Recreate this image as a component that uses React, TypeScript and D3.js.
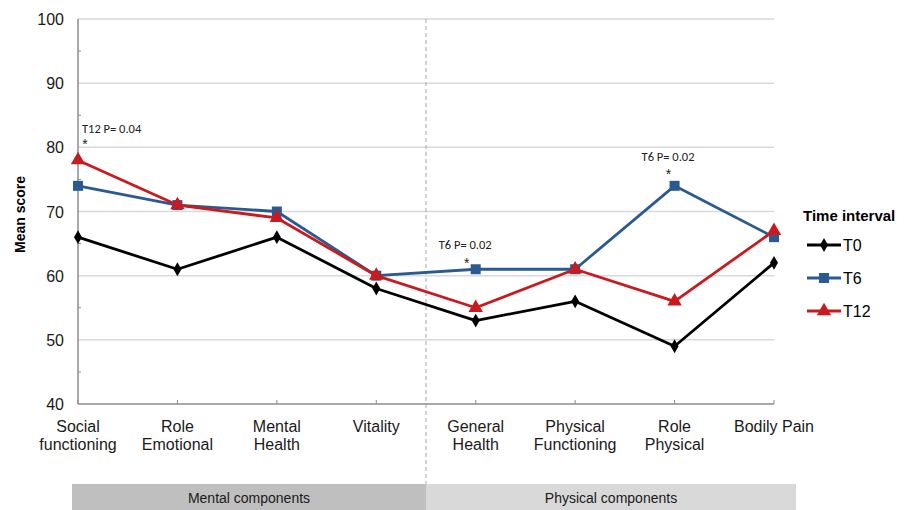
import React from "react";
import * as d3 from "d3";

const categories: string[][] = [
  ["Social", "functioning"],
  ["Role", "Emotional"],
  ["Mental", "Health"],
  ["Vitality"],
  ["General", "Health"],
  ["Physical", "Functioning"],
  ["Role", "Physical"],
  ["Bodily Pain"],
];
const t0 = [66, 61, 66, 58, 53, 56, 49, 62];
const t6 = [74, 71, 70, 60, 61, 61, 74, 66];
const t12 = [78, 71, 69, 60, 55, 61, 56, 67];
const yTicks = [40, 50, 60, 70, 80, 90, 100];
const annotations = [
  { cat: 0, value: 78, text: "T12 P= 0.04" },
  { cat: 4, value: 61, text: "T6 P= 0.02" },
  { cat: 6, value: 74, text: "T6 P= 0.02" },
];
const groups = [
  { label: "Mental components", from: 0, to: 3.5 },
  { label: "Physical components", from: 3.5, to: 7 },
];

const W = 914;
const H = 510;
const FONT = "'Liberation Sans', Arial, sans-serif";
const ANN_FONT = "Carlito, 'Open Sans', 'Liberation Sans', sans-serif";

// layout offsets for annotation text / star relative to the point
const annStyle = [
  { tx: 4, ty: -27, sx: 7, sy: -11 },
  { tx: -37, ty: -20, sx: -9, sy: -1 },
  { tx: -33, ty: -25, sx: -6, sy: -6.5 },
];

export default function App() {
  const x = d3.scalePoint<number>().domain(d3.range(categories.length)).range([78, 774]);
  const y = d3.scaleLinear().domain([40, 100]).range([404, 19]);
  const step = x.step();
  const xc = (v: number) => x(0)! + v * step;

  const series = [
    { name: "T0", data: t0, color: "#000000", marker: "diamond" },
    { name: "T6", data: t6, color: "#2b5a91", marker: "square" },
    { name: "T12", data: t12, color: "#c81a1f", marker: "triangle" },
  ];

  const line = d3
    .line<number>()
    .x((_, i) => x(i)!)
    .y((d) => y(d));

  const markerPath = (type: string) => {
    if (type === "diamond") return d3.symbol(d3.symbolDiamond, 55)()!;
    if (type === "square") return d3.symbol(d3.symbolSquare, 100)()!;
    return d3.symbol(d3.symbolTriangle, 90)()!;
  };

  const minor = d3.range(45, 100, 10);

  return (
    <svg width={W} height={H} style={{ position: "absolute", left: 0, top: 0, background: "#fff" }}>
      <rect x={0} y={0} width={W} height={H} fill="#fff" />
      {/* gridlines */}
      {yTicks.slice(1).map((t) => (
        <line key={t} x1={x(0)} x2={x(7)} y1={y(t)} y2={y(t)} stroke="#d9d9d9" strokeWidth={1.5} />
      ))}
      {/* y axis */}
      <line x1={x(0)} x2={x(0)} y1={y(100)} y2={y(40)} stroke="#8c8c8c" strokeWidth={1.5} />
      {minor.map((t) => (
        <line key={t} x1={x(0)} x2={x(0)! + 3} y1={y(t)} y2={y(t)} stroke="#8c8c8c" strokeWidth={1} />
      ))}
      {yTicks.map((t) => (
        <text key={t} x={64} y={y(t) + 6} textAnchor="end" fontSize={16} fontFamily={FONT} fill="#1a1a1a">
          {t}
        </text>
      ))}
      <text
        transform={`translate(25, ${y(70) + 3}) rotate(-90)`}
        textAnchor="middle"
        fontSize={14}
        fontWeight="bold"
        fontFamily={FONT}
        fill="#000"
      >
        Mean score
      </text>
      {/* x axis */}
      <line x1={x(0)} x2={x(7)} y1={y(40)} y2={y(40)} stroke="#8c8c8c" strokeWidth={1.5} />
      {categories.map((_, i) => (
        <line key={i} x1={x(i)} x2={x(i)} y1={y(40)} y2={y(40) - 4} stroke="#8c8c8c" strokeWidth={1} />
      ))}
      {categories.map((lines, i) => (
        <text key={i} textAnchor="middle" fontSize={16} fontFamily={FONT} fill="#1a1a1a">
          {lines.map((l, j) => (
            <tspan key={j} x={x(i)} y={432 + j * 18}>
              {l}
            </tspan>
          ))}
        </text>
      ))}
      {/* divider */}
      <line x1={xc(3.5)} x2={xc(3.5)} y1={y(100)} y2={484} stroke="#a6a6a6" strokeWidth={1} strokeDasharray="4,3" />
      {/* group bands */}
      {groups.map((g, i) => {
        const x0 = i === 0 ? xc(g.from) - 6 : xc(g.from);
        const x1 = i === 0 ? xc(g.to) : xc(g.to) + 22;
        return (
          <g key={g.label}>
            <rect x={x0} y={484} width={x1 - x0} height={26} fill={i === 0 ? "#bfbfbf" : "#d9d9d9"} />
            <text x={(x0 + x1) / 2} y={503} textAnchor="middle" fontSize={14} fontFamily={FONT} fill="#1a1a1a">
              {g.label}
            </text>
          </g>
        );
      })}
      {/* series */}
      {series.map((s) => (
        <g key={s.name}>
          <path d={line(s.data)!} fill="none" stroke={s.color} strokeWidth={2.8} strokeLinejoin="round" />
          {s.data.map((v, i) => (
            <path key={i} d={markerPath(s.marker)} transform={`translate(${x(i)},${y(v)})`} fill={s.color} />
          ))}
        </g>
      ))}
      {/* annotations */}
      {annotations.map((a, i) => {
        const st = annStyle[i];
        return (
          <g key={i}>
            <text x={x(a.cat)! + st.tx} y={y(a.value) + st.ty} fontSize={12.5} fontFamily={ANN_FONT} fill="#222">
              {a.text}
            </text>
            <text x={x(a.cat)! + st.sx} y={y(a.value) + st.sy} fontSize={14} fontFamily={FONT} fill="#222" textAnchor="middle">
              *
            </text>
          </g>
        );
      })}
      {/* legend */}
      <text x={803} y={221} fontSize={15} fontWeight="bold" fontFamily={FONT} fill="#000">
        Time interval
      </text>
      {series.map((s, i) => {
        const ly = 245 + i * 33;
        return (
          <g key={s.name}>
            <line x1={807} x2={841} y1={ly} y2={ly} stroke={s.color} strokeWidth={2.8} />
            <path d={markerPath(s.marker)} transform={`translate(824,${ly})`} fill={s.color} />
            <text x={843} y={ly + 6} fontSize={16} fontFamily={FONT} fill="#000">
              {s.name}
            </text>
          </g>
        );
      })}
    </svg>
  );
}
